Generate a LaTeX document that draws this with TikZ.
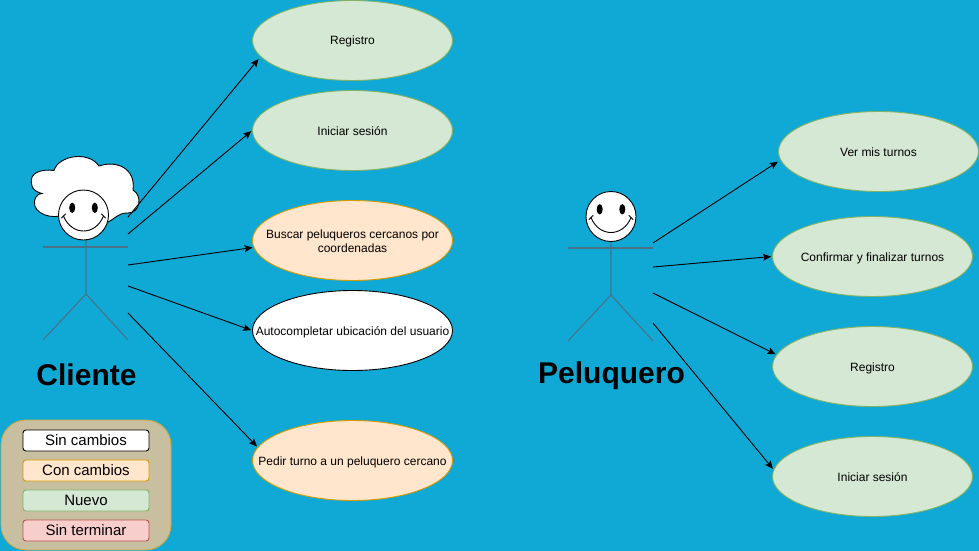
\documentclass[tikz,border=0pt]{standalone}
\usepackage{fontspec}
\setmainfont{Liberation Sans}
\usetikzlibrary{arrows.meta,shapes.geometric,calc}
\definecolor{fondo}{HTML}{10A9D6}
\definecolor{palo}{HTML}{4A7287}
\definecolor{leyenda}{HTML}{C8BEA0}
\definecolor{leyendaborde}{HTML}{CFA93E}
\definecolor{verdeF}{HTML}{D5E8D4}
\definecolor{verdeB}{HTML}{82B366}
\definecolor{naranjaF}{HTML}{FFE6CC}
\definecolor{naranjaB}{HTML}{D79B00}
\definecolor{rojoF}{HTML}{F8CECC}
\definecolor{rojoB}{HTML}{B85450}
\tikzset{
  x=1pt,y=-1pt,
  caso/.style={shape=ellipse,minimum width=200pt,minimum height=80pt,inner xsep=-40pt,inner ysep=0pt,line width=.9pt,align=center,text height=12pt,text depth=3pt,font=\fontsize{12}{14}\selectfont},
  casoverde/.style={caso,fill=verdeF,draw=verdeB},
  casonaranja/.style={caso,fill=naranjaF,draw=naranjaB},
  casoblanco/.style={caso,fill=white,draw=black},
  flecha/.style={draw=black,line width=.9pt,-{Stealth[length=8pt,width=7pt,inset=1.5pt]},shorten >=1pt},
  palito/.style={draw=palo,line width=1.1pt},
  cabeza/.style={shape=circle,minimum size=50pt,inner sep=0pt,fill=white,draw=black,line width=.9pt},
  actor/.style={font=\fontsize{30}{36}\selectfont\bfseries,text=black,inner sep=0pt},
  etiqueta/.style={shape=rectangle,rounded corners=3pt,minimum width=126pt,minimum height=21pt,inner sep=0pt,line width=.9pt,text height=13pt,text depth=3pt,font=\fontsize{15}{18}\selectfont},
}
\newcommand{\carita}[2]{%
  \fill[black] ($(#1,#2)+(-11.3,-7.2)$) ellipse (3pt and 5.2pt);
  \fill[black] ($(#1,#2)+(11.3,-7.2)$) ellipse (3pt and 5.2pt);
  \draw[black,line width=.9pt,line cap=round] (#1-20,#2+1) .. controls (#1-12,#2+21) and (#1+12,#2+21) .. (#1+20,#2+1);
  \draw[black,line width=.9pt,line cap=round] (#1-22,#2+3) -- (#1-18,#2-1);
  \draw[black,line width=.9pt,line cap=round] (#1+22,#2+3) -- (#1+18,#2-1);
}
\begin{document}
\begin{tikzpicture}
\path[use as bounding box,fill=fondo] (0,0) rectangle (979,551);
% nube
\draw[fill=white,draw=black,line width=.9pt]
  (31.5,184) .. controls (29,172) and (42,169) .. (54,170.5)
  .. controls (58,156) and (88,150) .. (99,166)
  .. controls (116,160) and (136,168) .. (133,190)
  .. controls (143,196) and (140,213) .. (128,213)
  .. controls (118,213) and (116,218) .. (108,222)
  -- (60,216)
  .. controls (46,219) and (29,210) .. (36,197)
  .. controls (37,194) and (40,194) .. (42,193.5)
  .. controls (36,192) and (32,189) .. (31.5,184) -- cycle;
% actor Cliente
\draw[palito] (43,247) -- (128,247);
\draw[palito] (86,240) -- (86,294) (43,340) -- (86,294) -- (128,340);
\node[cabeza] (headC) at (83.5,215) {};
\carita{83.5}{215}
\node[actor] (cliente) at (86.5,374.5) {Cliente};
% actor Peluquero
\draw[palito] (568,248) -- (653,248);
\draw[palito] (611,241) -- (611,295) (568,341) -- (611,295) -- (653,341);
\node[cabeza] (headP) at (611,216.5) {};
\carita{611}{216.5}
\node[actor] (peluquero) at (611.5,375.5) {Peluquero};
% casos
\node[casoverde] (registro) at (352.5,40.5) {Registro};
\node[casoverde] (iniciar) at (352.5,130.5) {Iniciar sesión};
\node[casonaranja,text height=26pt,text depth=3pt] (buscar) at (352.5,240.5) {Buscar peluqueros cercanos por\\coordenadas};
\node[casoblanco] (auto) at (352.5,330.5) {Autocompletar ubicación del usuario};
\node[casonaranja] (pedir) at (352.5,460.5) {Pedir turno a un peluquero cercano};
\node[casoverde] (ver) at (878.5,151.5) {Ver mis turnos};
\node[casoverde] (confirmar) at (872.5,256.5) {Confirmar y finalizar turnos};
\node[casoverde] (registroP) at (872.5,366.5) {Registro};
\node[casoverde] (iniciarP) at (872.5,476.5) {Iniciar sesión};
% extremos libres
\coordinate (c1) at (128,217);
\coordinate (c2) at (128,234);
\coordinate (c3) at (128,265);
\coordinate (c4) at (128,286);
\coordinate (c5) at (128,313);
\coordinate (p1) at (653,243);
\coordinate (p2) at (653,267);
\coordinate (p3) at (653,293);
\coordinate (p4) at (653,323);
% conectores
\draw[flecha,shorten >=3pt] (c1) -- (registro.190);
\draw[flecha] (c2) -- (iniciar.west);
\draw[flecha] (c3) -- (buscar.184);
\draw[flecha] (c4) -- (auto.west);
\draw[flecha] (c5) -- (pedir.172);
\draw[flecha,shorten >=3pt] (p1) -- (ver.185);
\draw[flecha] (p2) -- (confirmar.180);
\draw[flecha] (p3) -- (registroP.173);
\draw[flecha] (p4) -- (iniciarP.176);
% leyenda
\node[shape=rectangle,minimum width=170pt,minimum height=130pt,rounded corners=25pt,fill=leyenda,draw=leyendaborde,line width=.9pt,inner sep=0pt] (leyendaCaja) at (86,485) {};
\node[etiqueta,fill=white,draw=black] (sinc) at (86,440.5) {Sin cambios};
\node[etiqueta,fill=naranjaF,draw=naranjaB] (conc) at (86,470.5) {Con cambios};
\node[etiqueta,fill=verdeF,draw=verdeB] (nuevo) at (86,500.5) {Nuevo};
\node[etiqueta,fill=rojoF,draw=rojoB] (sint) at (86,530.5) {Sin terminar};
\end{tikzpicture}
\end{document}
